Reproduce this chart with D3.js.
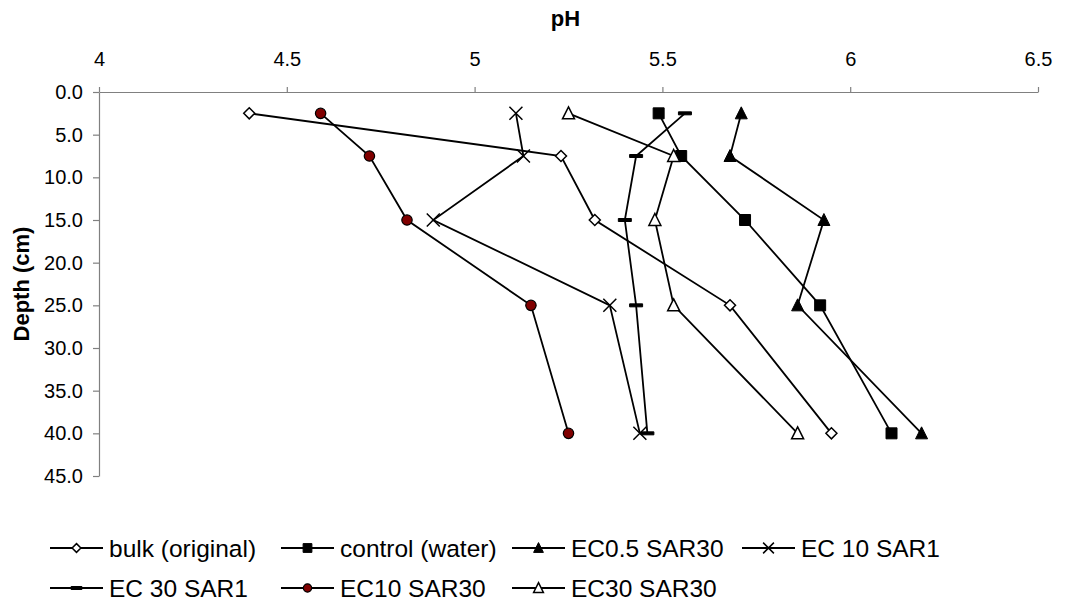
<!DOCTYPE html>
<html>
<head>
<meta charset="utf-8">
<script src="https://cdn.jsdelivr.net/npm/d3@7"></script>
<style>
  body { margin: 0; background: #fff; }
  svg { font-family: "Liberation Sans", Arial, sans-serif; }
</style>
</head>
<body>
<div id="chart"></div>
<script>
// depth profile of soil pH, one line per treatment
const depths = [2.5, 7.5, 15, 25, 40];

const bulk       = [4.40, 5.23, 5.32, 5.68, 5.95];
const control    = [5.49, 5.55, 5.72, 5.92, 6.11];
const ec05sar30  = [5.71, 5.68, 5.93, 5.86, 6.19];
const ec10sar1   = [5.11, 5.13, 4.89, 5.36, 5.44];
const ec30sar1   = [5.56, 5.43, 5.40, 5.43, 5.46];
const ec10sar30  = [4.59, 4.72, 4.82, 5.15, 5.25];
const ec30sar30  = [5.25, 5.53, 5.48, 5.53, 5.86];

const seriesNames = ["bulk (original)", "control (water)", "EC0.5 SAR30", "EC 10 SAR1",
                     "EC 30 SAR1", "EC10 SAR30", "EC30 SAR30"];
const seriesValues = [bulk, control, ec05sar30, ec10sar1, ec30sar1, ec10sar30, ec30sar30];
const seriesMarkers = ["diamond", "square", "triangle", "times", "dash", "circle", "triangleOpen"];

const xTicks = [4, 4.5, 5, 5.5, 6, 6.5];
const yTicks = [0, 5, 10, 15, 20, 25, 30, 35, 40, 45];

const width = 1065, height = 603;
const plot = {left: 99, right: 1038, top: 92, bottom: 476};

let svg = d3.select("#chart")
    .append("svg")
    .attr("width", width)
    .attr("height", height);

let x = d3.scaleLinear()
    .domain([4, 6.5])
    .range([plot.left, plot.right]);

let y = d3.scaleLinear()
    .domain([0, 45])
    .range([plot.top, plot.bottom]);

// axes: pH along the top, depth down the left
let xAxis = svg.append("g")
    .attr("transform", `translate(0, ${plot.top})`)
    .call(d3.axisTop(x).tickValues(xTicks).tickFormat(d3.format("")).tickSize(5).tickSizeOuter(0).tickPadding(21));

let yAxis = svg.append("g")
    .attr("transform", `translate(${plot.left}, 0)`)
    .call(d3.axisLeft(y).tickValues(yTicks).tickFormat(d3.format(".1f")).tickSize(6).tickSizeOuter(0).tickPadding(10));

[xAxis, yAxis].forEach(a => {
    a.select(".domain").attr("stroke", "#808080").attr("stroke-width", 1.2);
    a.selectAll(".tick line").attr("stroke", "#808080").attr("stroke-width", 1.2);
    a.selectAll(".tick text").attr("fill", "#000").style("font-size", "20px");
});

svg.append("text")
    .attr("x", (plot.left + plot.right) / 2 - 3)
    .attr("y", 26)
    .attr("text-anchor", "middle")
    .style("font-size", "22px")
    .style("font-weight", "bold")
    .text("pH");

svg.append("text")
    .attr("transform", `translate(29, ${(plot.top + plot.bottom) / 2}) rotate(-90)`)
    .attr("text-anchor", "middle")
    .style("font-size", "22px")
    .style("font-weight", "bold")
    .text("Depth (cm)");

// marker drawing, relative to the point
function markerPath(type, k = 1) {
    const s = 5.5 * k;
    switch (type) {
        case "diamond": return `M0,${-s}L${s},0L0,${s}L${-s},0Z`;
        case "square": return `M${-s},${-s}H${s}V${s}H${-s}Z`;
        case "triangle":
        case "triangleOpen": return `M0,${-s - 1}L${s + 0.5},${s}L${-s - 0.5},${s}Z`;
        case "times": return `M${-s - 1},${-s - 1}L${s + 1},${s + 1}M${-s - 1},${s + 1}L${s + 1},${-s - 1}`;
        case "dash": return `M${-s - 1},-1.5H${s + 1}V1.5H${-s - 1}Z`;
        case "circle": return d3.symbol(d3.symbolCircle, 85 * k * k)();
    }
}

function styleMarker(sel, type) {
    if (type === "diamond" || type === "triangleOpen") {
        sel.attr("fill", "#fff").attr("stroke", "#000").attr("stroke-width", 1.5);
    } else if (type === "circle") {
        sel.attr("fill", "#800000").attr("stroke", "#000").attr("stroke-width", 1.2);
    } else if (type === "times") {
        sel.attr("fill", "none").attr("stroke", "#000").attr("stroke-width", 1.5);
    } else {
        sel.attr("fill", "#000").attr("stroke", "#000").attr("stroke-width", 1);
    }
}

let line = d3.line()
    .x(d => x(d.ph))
    .y(d => y(d.depth));

seriesValues.forEach((vals, i) => {
    let pts = vals.map((v, j) => ({ph: v, depth: depths[j]}));
    let g = svg.append("g");
    g.append("path")
        .datum(pts)
        .attr("d", line)
        .attr("fill", "none")
        .attr("stroke", "#000")
        .attr("stroke-width", 1.8);
    g.selectAll("path.marker")
        .data(pts)
        .enter()
        .append("path")
        .attr("class", "marker")
        .attr("transform", d => `translate(${x(d.ph)}, ${y(d.depth)})`)
        .attr("d", markerPath(seriesMarkers[i]))
        .call(styleMarker, seriesMarkers[i]);
});

// legend, two rows
const legendCols = [50, 281, 512, 742];
const legendRows = [548, 588];
const legendLine = 53;

seriesNames.forEach((name, i) => {
    let lx = legendCols[i % 4], ly = legendRows[Math.floor(i / 4)];
    let g = svg.append("g").attr("transform", `translate(${lx}, ${ly})`);
    g.append("line")
        .attr("x1", 0).attr("x2", legendLine)
        .attr("stroke", "#000").attr("stroke-width", 1.8);
    g.append("path")
        .attr("transform", `translate(${legendLine / 2}, 0)`)
        .attr("d", markerPath(seriesMarkers[i], 0.8))
        .call(styleMarker, seriesMarkers[i]);
    g.append("text")
        .attr("x", legendLine + 6)
        .attr("y", 0)
        .attr("dy", "0.36em")
        .style("font-size", "24.5px")
        .text(name);
});
</script>
</body>
</html>
